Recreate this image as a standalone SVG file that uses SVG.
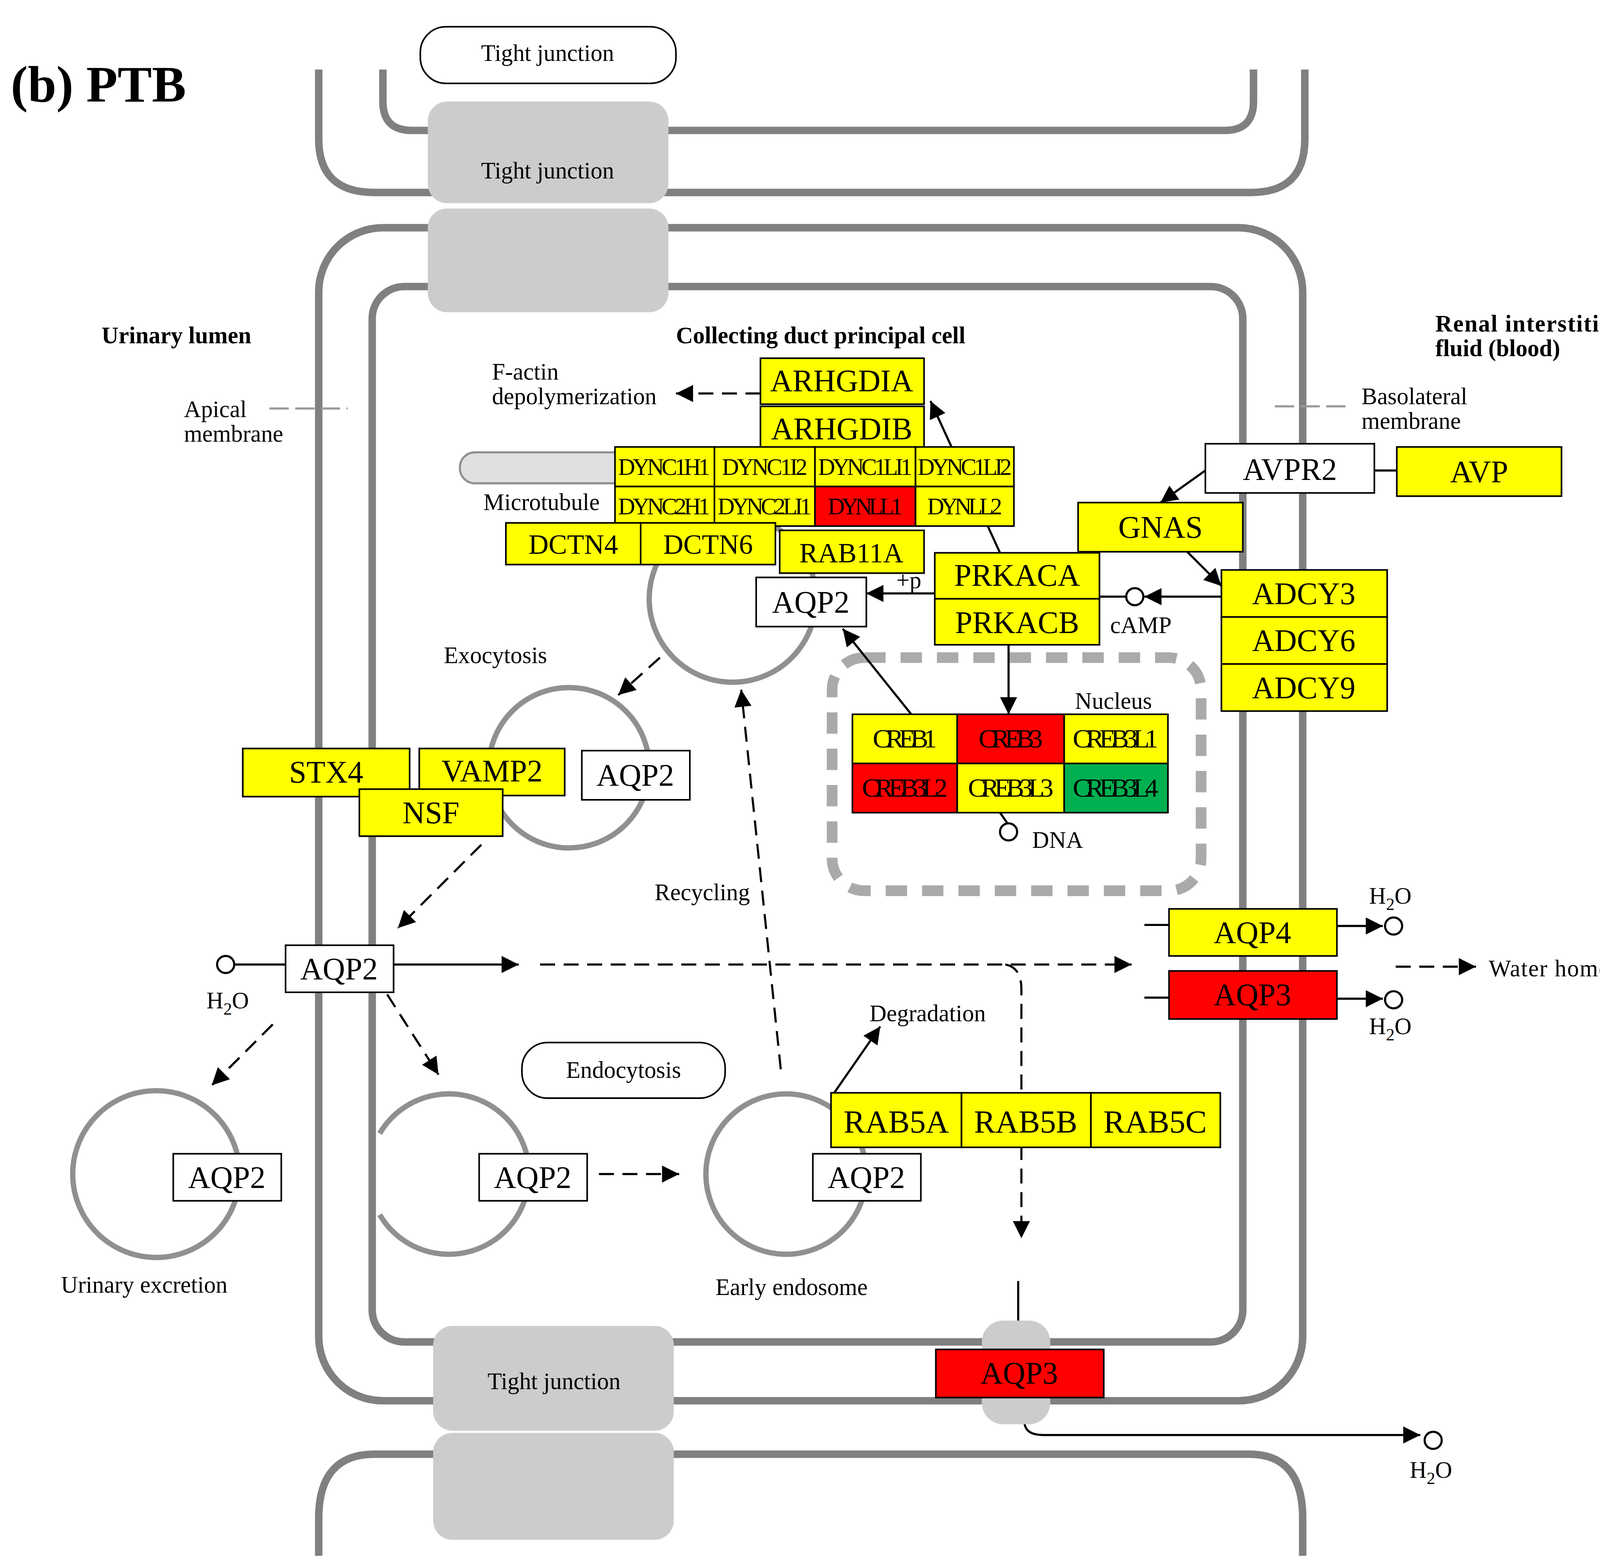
<svg xmlns="http://www.w3.org/2000/svg" width="4277" height="4015" viewBox="0 0 4277 4015">
<style>
.m{fill:none;stroke:#808080;stroke-width:7}
.tj{fill:#cccccc}
.g{stroke:#000;stroke-width:1.5}
.y{fill:#ffff00}.r{fill:#ff0000}.gr{fill:#00b050}.w{fill:#fff}
text{font-family:"Liberation Serif","Times New Roman",serif;fill:#000}
.gt{font-size:29px;text-anchor:middle}
.st{font-size:22px;text-anchor:middle}
.lb{font-size:22px}
.bd{font-weight:bold;font-size:22px}
.c{fill:none;stroke:#000;stroke-width:2}
.d{fill:none;stroke:#000;stroke-width:2;stroke-dasharray:14,8}
.ves{fill:none;stroke:#909090;stroke-width:5}
.oc{fill:#fff;stroke:#000;stroke-width:2}
</style>
<defs>
<marker id="A" viewBox="0 0 10 10" markerWidth="20" markerHeight="16" refX="10" refY="5" orient="auto" markerUnits="userSpaceOnUse"><path d="M0,0L10,5L0,10z" fill="#000"/></marker></defs>
<rect width="4277" height="4015" fill="#fff"/>
<g transform="scale(2.738)">
<text x="10" y="95" style="font-size:48px;font-weight:bold">(b) PTB</text>
<g id="membranes">
<path class="m" d="M298,65V130Q298,180 350,180H1170Q1220,180 1220,130V65"/>
<path class="m" d="M358,65V95Q358,122 385,122H1145Q1172,122 1172,95V65"/>
<rect class="m" x="298" y="213" width="920" height="1097" rx="60"/>
<rect class="m" x="348" y="268" width="814" height="987" rx="30"/>
<path class="m" d="M298,1455V1420Q298,1360 350,1360H1168Q1218,1360 1218,1420V1455"/>
</g>
<g id="tight-junctions">
<rect class="tj" x="400" y="95" width="225" height="95" rx="18"/>
<rect class="tj" x="400" y="195" width="225" height="97" rx="18"/>
<rect class="tj" x="405" y="1240" width="225" height="98" rx="18"/>
<rect class="tj" x="405" y="1340" width="225" height="100" rx="18"/>
<rect class="tj" x="918" y="1235" width="64" height="97" rx="20"/>
<rect x="393" y="25" width="239" height="53" rx="24" fill="#fff" stroke="#000" stroke-width="1.5"/>
<text class="lb" x="512" y="57" text-anchor="middle">Tight junction</text>
<text class="lb" x="512" y="167" text-anchor="middle">Tight junction</text>
<text class="lb" x="518" y="1299" text-anchor="middle">Tight junction</text>
</g>
<g id="vesicles">
<circle class="ves" cx="685" cy="560" r="78"/>
<circle class="ves" cx="532" cy="718" r="75"/>
<circle class="ves" cx="146" cy="1098" r="78"/>
<path class="ves" d="M355,1060A75,75 0 1 1 355,1136"/>
<circle class="ves" cx="735" cy="1098" r="75"/>
<rect x="430" y="423" width="160" height="29" rx="14" fill="#e0e0e0" stroke="#909090" stroke-width="2"/>
<rect x="778" y="615" width="345" height="218" rx="30" fill="none" stroke="#aaa" stroke-width="10" stroke-dasharray="20,14"/>
<rect x="488" y="975" width="190" height="52" rx="24" fill="#fff" stroke="#000" stroke-width="1.5"/>
<text class="lb" x="583" y="1008" text-anchor="middle">Endocytosis</text>
</g>
<g id="connectors">
<path class="d" d="M711,368H632" marker-end="url(#A)"/>
<path class="c" d="M935,517L870,375" marker-end="url(#A)"/>
<path class="c" d="M1285,440H1306"/>
<path class="c" d="M1127,440L1085,470" marker-end="url(#A)"/>
<path class="c" d="M1110,516L1142,548" marker-end="url(#A)"/>
<path class="c" d="M1142,558H1070" marker-end="url(#A)"/>
<path class="c" d="M1053,558H1028"/>
<path class="c" d="M874,555H810" marker-end="url(#A)"/>
<path class="c" d="M943,603V668" marker-end="url(#A)"/>
<path class="c" d="M852,668L788,588" marker-end="url(#A)"/>
<path class="c" d="M935,760L942,770"/>
<path class="d" d="M617,615L578,650" marker-end="url(#A)"/>
<path class="d" d="M450,790L372,868" marker-end="url(#A)"/>
<path class="c" d="M219,902H267"/>
<path class="c" d="M368,902H485" marker-end="url(#A)"/>
<path class="d" d="M505,902H1058" marker-end="url(#A)"/>
<path class="c" d="M1070,865H1093"/>
<path class="c" d="M1250,866H1293" marker-end="url(#A)"/>
<path class="c" d="M1070,933H1093"/>
<path class="c" d="M1250,934H1293" marker-end="url(#A)"/>
<path class="d" d="M1305,904H1380" marker-end="url(#A)"/>
<path class="d" d="M255,958L198,1015" marker-end="url(#A)"/>
<path class="d" d="M362,930L410,1005" marker-end="url(#A)"/>
<path class="d" d="M560,1098H635" marker-end="url(#A)"/>
<path class="d" d="M730,1000L693,645" marker-end="url(#A)"/>
<path class="c" d="M780,1022L823,960" marker-end="url(#A)"/>
<path class="d" d="M940,902Q955,905 955,925V1158" marker-end="url(#A)"/>
<path class="c" d="M952,1198V1235"/>
<path class="c" d="M958,1332Q960,1342 975,1342H1328" marker-end="url(#A)"/>
<circle class="oc" cx="1061" cy="558" r="8"/>
<circle class="oc" cx="943" cy="778" r="8"/>
<circle class="oc" cx="211" cy="902" r="8"/>
<circle class="oc" cx="1303" cy="866" r="8"/>
<circle class="oc" cx="1303" cy="935" r="8"/>
<circle class="oc" cx="1340" cy="1347" r="8"/>
</g>
<g id="nodes">
<g id="ARHGDIA"><rect class="g y" x="711" y="335" width="153" height="43"/><text class="gt" x="787" y="366">ARHGDIA</text></g>
<g id="ARHGDIB"><rect class="g y" x="711" y="380" width="153" height="40"/><text class="gt" x="787" y="411">ARHGDIB</text></g>
<g id="DYNC1H1"><rect class="g y" x="575" y="418" width="93" height="37"/><text class="st" x="621" y="444" textLength="86">DYNC1H1</text></g>
<g id="DYNC1I2"><rect class="g y" x="668" y="418" width="94" height="37"/><text class="st" x="715" y="444" textLength="80">DYNC1I2</text></g>
<g id="DYNC1LI1"><rect class="g y" x="762" y="418" width="94" height="37"/><text class="st" x="809" y="444" textLength="88">DYNC1LI1</text></g>
<g id="DYNC1LI2"><rect class="g y" x="856" y="418" width="92" height="37"/><text class="st" x="902" y="444" textLength="88">DYNC1LI2</text></g>
<g id="DYNC2H1"><rect class="g y" x="575" y="455" width="93" height="37"/><text class="st" x="621" y="481" textLength="86">DYNC2H1</text></g>
<g id="DYNC2LI1"><rect class="g y" x="668" y="455" width="94" height="37"/><text class="st" x="715" y="481" textLength="88">DYNC2LI1</text></g>
<g id="DYNLL1"><rect class="g r" x="762" y="455" width="94" height="37"/><text class="st" x="809" y="481" textLength="70">DYNLL1</text></g>
<g id="DYNLL2"><rect class="g y" x="856" y="455" width="92" height="37"/><text class="st" x="902" y="481" textLength="70">DYNLL2</text></g>
<g id="DCTN4"><rect class="g y" x="473" y="489" width="126" height="39"/><text class="gt" x="536" y="518" style="font-size:26px">DCTN4</text></g>
<g id="DCTN6"><rect class="g y" x="599" y="489" width="126" height="39"/><text class="gt" x="662" y="518" style="font-size:26px">DCTN6</text></g>
<g id="RAB11A"><rect class="g y" x="729" y="496" width="135" height="40"/><text class="gt" x="796" y="526" style="font-size:26px">RAB11A</text></g>
<g id="PRKACA"><rect class="g y" x="874" y="517" width="154" height="43"/><text class="gt" x="951" y="548">PRKACA</text></g>
<g id="PRKACB"><rect class="g y" x="874" y="560" width="154" height="43"/><text class="gt" x="951" y="592">PRKACB</text></g>
<g id="AVPR2"><rect class="g w" x="1127" y="415" width="158" height="46"/><text class="gt" x="1206" y="449">AVPR2</text></g>
<g id="AVP"><rect class="g y" x="1306" y="418" width="154" height="46"/><text class="gt" x="1383" y="451">AVP</text></g>
<g id="GNAS"><rect class="g y" x="1008" y="470" width="154" height="46"/><text class="gt" x="1085" y="503">GNAS</text></g>
<g id="ADCY3"><rect class="g y" x="1142" y="533" width="155" height="44"/><text class="gt" x="1219" y="565">ADCY3</text></g>
<g id="ADCY6"><rect class="g y" x="1142" y="577" width="155" height="44"/><text class="gt" x="1219" y="609">ADCY6</text></g>
<g id="ADCY9"><rect class="g y" x="1142" y="621" width="155" height="44"/><text class="gt" x="1219" y="653">ADCY9</text></g>
<g id="CREB1"><rect class="g y" x="797" y="668" width="98" height="46"/><text class="st" x="846" y="699" style="font-size:25px" textLength="60">CREB1</text></g>
<g id="CREB3"><rect class="g r" x="895" y="668" width="100" height="46"/><text class="st" x="945" y="699" style="font-size:25px" textLength="60">CREB3</text></g>
<g id="CREB3L1"><rect class="g y" x="995" y="668" width="97" height="46"/><text class="st" x="1043" y="699" style="font-size:25px" textLength="80">CREB3L1</text></g>
<g id="CREB3L2"><rect class="g r" x="797" y="714" width="98" height="46"/><text class="st" x="846" y="745" style="font-size:25px" textLength="80">CREB3L2</text></g>
<g id="CREB3L3"><rect class="g y" x="895" y="714" width="100" height="46"/><text class="st" x="945" y="745" style="font-size:25px" textLength="80">CREB3L3</text></g>
<g id="CREB3L4"><rect class="g gr" x="995" y="714" width="97" height="46"/><text class="st" x="1043" y="745" style="font-size:25px" textLength="80">CREB3L4</text></g>
<g id="STX4"><rect class="g y" x="227" y="700" width="156" height="45"/><text class="gt" x="305" y="732">STX4</text></g>
<g id="VAMP2"><rect class="g y" x="392" y="700" width="136" height="44"/><text class="gt" x="460" y="731">VAMP2</text></g>
<g id="NSF"><rect class="g y" x="336" y="738" width="134" height="44"/><text class="gt" x="403" y="770">NSF</text></g>
<g id="AQP2-a"><rect class="g w" x="544" y="702" width="101" height="46"/><text class="gt" x="594" y="735">AQP2</text></g>
<g id="AQP2-b"><rect class="g w" x="707" y="540" width="103" height="46"/><text class="gt" x="758" y="573">AQP2</text></g>
<g id="AQP2-c"><rect class="g w" x="267" y="884" width="101" height="44"/><text class="gt" x="317" y="916">AQP2</text></g>
<g id="AQP4"><rect class="g y" x="1093" y="850" width="157" height="44"/><text class="gt" x="1171" y="882">AQP4</text></g>
<g id="AQP3-a"><rect class="g r" x="1093" y="908" width="157" height="45"/><text class="gt" x="1171" y="940">AQP3</text></g>
<g id="RAB5A"><rect class="g y" x="777" y="1022" width="122" height="51"/><text class="gt" x="838" y="1059" style="font-size:30px">RAB5A</text></g>
<g id="RAB5B"><rect class="g y" x="899" y="1022" width="121" height="51"/><text class="gt" x="959" y="1059" style="font-size:30px">RAB5B</text></g>
<g id="RAB5C"><rect class="g y" x="1020" y="1022" width="121" height="51"/><text class="gt" x="1080" y="1059" style="font-size:30px">RAB5C</text></g>
<g id="AQP2-d"><rect class="g w" x="162" y="1079" width="101" height="44"/><text class="gt" x="212" y="1111">AQP2</text></g>
<g id="AQP2-e"><rect class="g w" x="448" y="1079" width="101" height="44"/><text class="gt" x="498" y="1111">AQP2</text></g>
<g id="AQP2-f"><rect class="g w" x="760" y="1079" width="101" height="44"/><text class="gt" x="810" y="1111">AQP2</text></g>
<g id="AQP3-b"><rect class="g r" x="875" y="1262" width="157" height="45"/><text class="gt" x="953" y="1294">AQP3</text></g>
</g>
<g id="labels">
<text class="bd" x="95" y="321">Urinary lumen</text>
<text class="bd" x="632" y="321">Collecting duct principal cell</text>
<text class="bd" x="1342" y="310" textLength="185">Renal interstitium</text>
<text class="bd" x="1342" y="333">fluid (blood)</text>
<text class="lb" x="172" y="390">Apical</text>
<text class="lb" x="172" y="413">membrane</text>
<path d="M252,382H325" stroke="#999" stroke-width="2" stroke-dasharray="18,6" fill="none"/>
<path d="M1192,380H1262" stroke="#999" stroke-width="2" stroke-dasharray="18,6" fill="none"/>
<text class="lb" x="1273" y="378">Basolateral</text>
<text class="lb" x="1273" y="401">membrane</text>
<text class="lb" x="460" y="355">F-actin</text>
<text class="lb" x="460" y="378">depolymerization</text>
<text class="lb" x="452" y="477">Microtubule</text>
<text class="lb" x="838" y="550">+p</text>
<text class="lb" x="1038" y="592">cAMP</text>
<text class="lb" x="1005" y="663">Nucleus</text>
<text class="lb" x="965" y="793">DNA</text>
<text class="lb" x="415" y="620">Exocytosis</text>
<text class="lb" x="612" y="842">Recycling</text>
<text class="lb" x="813" y="955">Degradation</text>
<text class="lb" x="1392" y="913" textLength="160">Water homeostas</text>
<text class="lb" x="57" y="1209">Urinary excretion</text>
<text class="lb" x="669" y="1211">Early endosome</text>
<text class="lb" x="193" y="943">H<tspan dy="6" font-size="16">2</tspan><tspan dy="-6">O</tspan></text>
<text class="lb" x="1280" y="845">H<tspan dy="6" font-size="16">2</tspan><tspan dy="-6">O</tspan></text>
<text class="lb" x="1280" y="967">H<tspan dy="6" font-size="16">2</tspan><tspan dy="-6">O</tspan></text>
<text class="lb" x="1318" y="1382">H<tspan dy="6" font-size="16">2</tspan><tspan dy="-6">O</tspan></text>
</g>
</g>
</svg>
